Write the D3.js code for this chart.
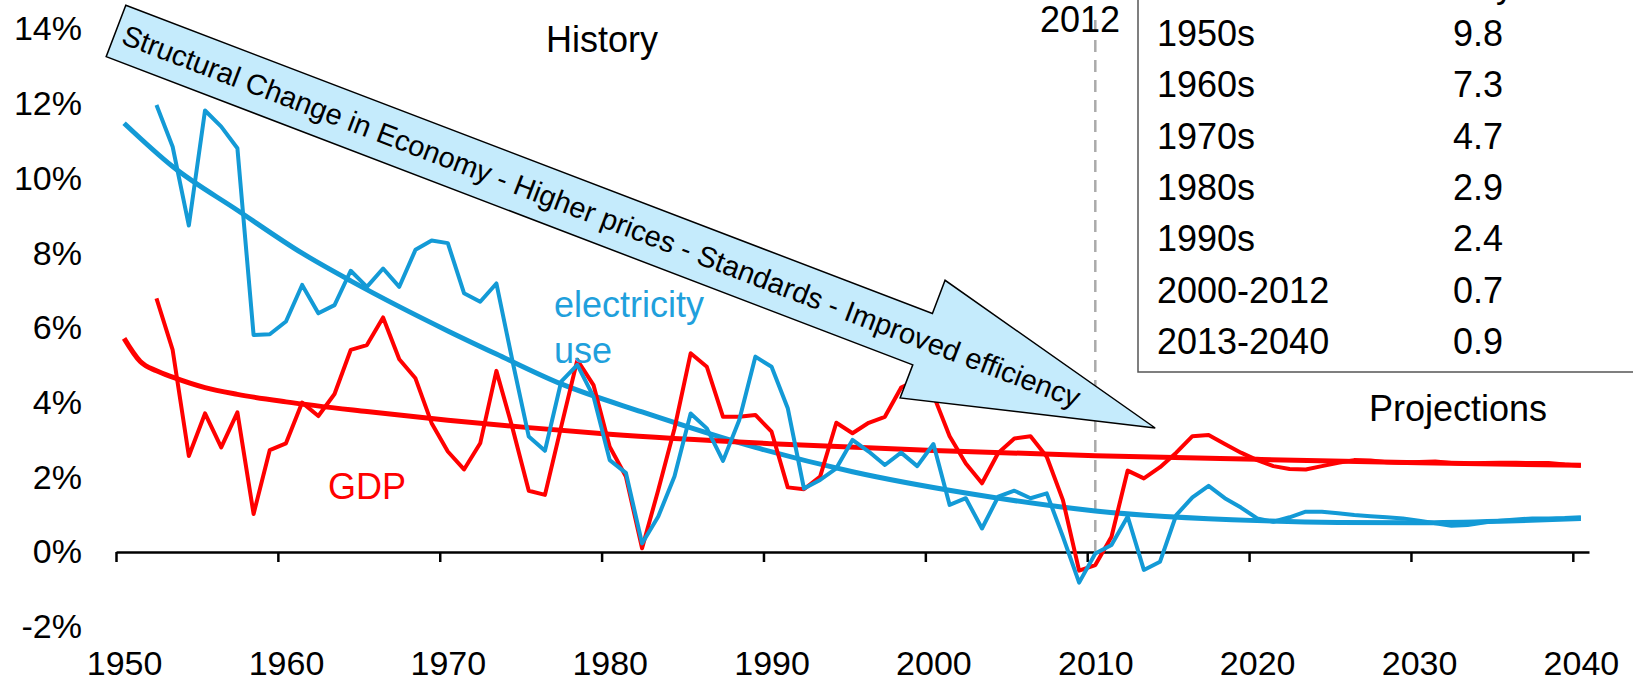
<!DOCTYPE html>
<html>
<head>
<meta charset="utf-8">
<script src="https://cdn.jsdelivr.net/npm/d3@7"></script>
<style>
  body { margin: 0; background: #fff; }
  svg { display: block; font-family: "Liberation Sans", Arial, sans-serif; }
</style>
</head>
<body>
<script>
var width = 1633, height = 688;

// data, growth in % per year
var firstYear = 1952;
var gdp = [6.79, 5.41, 2.57, 3.71, 2.80, 3.74, 1.02, 2.73, 2.91, 4.00,
           3.64, 4.23, 5.41, 5.54, 6.28, 5.16, 4.65, 3.45, 2.69, 2.21,
           2.91, 4.85, 3.31, 1.64, 1.53, 3.35, 5.14, 4.47, 2.82, 2.02,
           0.10, 1.66, 3.30, 5.32, 4.96, 3.62, 3.62, 3.67, 3.22, 1.73,
           1.68, 2.02, 3.46, 3.18, 3.46, 3.62, 4.40, 4.60, 4.20, 3.10,
           2.37, 1.84, 2.65, 3.04, 3.10, 2.55, 1.39, -0.50, -0.35, 0.41,
           2.18, 1.97, 2.27, 2.66, 3.10, 3.13, 2.89, 2.66, 2.46, 2.30,
           2.22, 2.21, 2.30, 2.39, 2.46, 2.45, 2.40, 2.39, 2.41, 2.42,
           2.38, 2.36, 2.38, 2.39, 2.39, 2.38, 2.38, 2.34, 2.31];
var electricity = [11.97, 10.85, 8.74, 11.82, 11.39, 10.81, 5.81, 5.83, 6.17, 7.15,
           6.39, 6.61, 7.53, 7.10, 7.59, 7.10, 8.09, 8.34, 8.27, 6.93,
           6.70, 7.19, 5.10, 3.09, 2.71, 4.56, 5.01, 4.16, 2.46, 2.12,
           0.23, 0.95, 2.02, 3.71, 3.31, 2.44, 3.53, 5.23, 4.96, 3.85,
           1.70, 1.93, 2.24, 3.00, 2.69, 2.33, 2.66, 2.30, 2.89, 1.26,
           1.44, 0.63, 1.48, 1.64, 1.44, 1.57, 0.41, -0.82, -0.04, 0.19,
           0.95, -0.48, -0.26, 0.99, 1.46, 1.77, 1.44, 1.19, 0.90, 0.81,
           0.93, 1.08, 1.08, 1.04, 0.99, 0.96, 0.93, 0.90, 0.84, 0.77,
           0.70, 0.72, 0.79, 0.84, 0.87, 0.90, 0.90, 0.91, 0.93];

// trend lines
var gdpTrendYears = [1950, 1951, 1952, 1953, 1955, 1957, 1960, 1965, 1970, 1975, 1980, 1990, 2000, 2010, 2020, 2030, 2040];
var gdpTrend      = [5.72, 5.10, 4.85, 4.68, 4.40, 4.22, 4.02, 3.76, 3.53, 3.33, 3.15, 2.90, 2.72, 2.58, 2.48, 2.39, 2.32];
var elecTrendYears = [1950, 1953, 1957, 1961, 1964, 1967, 1970, 1973, 1977, 1982, 1989, 1995, 2002, 2010, 2020, 2025, 2030, 2035, 2040];
var elecTrend      = [11.48, 10.32, 9.15, 8.0, 7.26, 6.57, 5.92, 5.30, 4.50, 3.75, 2.80, 2.15, 1.58, 1.10, 0.84, 0.79, 0.78, 0.82, 0.90];

var xTickYears = [1950, 1960, 1970, 1980, 1990, 2000, 2010, 2020, 2030, 2040];
var yTicks = [-2, 0, 2, 4, 6, 8, 10, 12, 14];

var tableRows   = ["1950s", "1960s", "1970s", "1980s", "1990s", "2000-2012", "2013-2040"];
var tableValues = ["9.8", "7.3", "4.7", "2.9", "2.4", "0.7", "0.9"];

var markerYear = 2010, markerLabel = "2012";
var arrowText = "Structural Change in Economy - Higher prices - Standards - Improved efficiency";
var arrowTail = [1949.5, 13.95], arrowTip = [2013.7, 3.32];

var blue = "#139ad6", red = "#ff0000";

// scales: each year is a category, ticks sit on category edges
var x = d3.scaleLinear().domain([1949.5, 2040.5]).range([116, 1589]);
var y = d3.scaleLinear().domain([-2, 14]).range([626.7, 29.1]);

var svg = d3.select("body").append("svg")
    .attr("width", width)
    .attr("height", height);

// x axis
var xAxis = svg.append("g")
    .attr("transform", "translate(0," + y(0) + ")")
    .call(d3.axisBottom(x)
      .tickValues(xTickYears.map(function(d) { return d - 0.5; }))
      .tickSize(10)
      .tickSizeOuter(0)
      .tickFormat(function(d) { return d + 0.5; }));
xAxis.select(".domain").attr("stroke", "#000").attr("stroke-width", 2.5);
xAxis.selectAll(".tick line").attr("stroke", "#000").attr("stroke-width", 2.5);
xAxis.selectAll(".tick text")
    .attr("x", x(1950) - x(1949.5))
    .attr("y", 123)
    .attr("dy", null)
    .attr("font-size", 34)
    .attr("fill", "#000");

// y axis labels only
var yAxis = svg.append("g")
    .attr("transform", "translate(82,0)")
    .call(d3.axisLeft(y)
      .tickValues(yTicks)
      .tickSize(0)
      .tickPadding(0)
      .tickFormat(function(d) { return d + "%"; }));
yAxis.select(".domain").remove();
yAxis.selectAll(".tick text").attr("font-size", 34).attr("fill", "#000");

// marker line
svg.append("line")
    .attr("x1", x(markerYear)).attr("x2", x(markerYear))
    .attr("y1", 20).attr("y2", y(0) + 6)
    .attr("stroke", "#aaa")
    .attr("stroke-width", 2.5)
    .attr("stroke-dasharray", "12,8");
svg.append("text")
    .attr("x", 1120).attr("y", 32)
    .attr("text-anchor", "end")
    .attr("font-size", 36)
    .text(markerLabel);

// lines
var line = d3.line()
    .x(function(d) { return x(d[0]); })
    .y(function(d) { return y(d[1]); });
var smooth = d3.line()
    .curve(d3.curveMonotoneX)
    .x(function(d) { return x(d[0]); })
    .y(function(d) { return y(d[1]); });

function pairs(years, vals) { return vals.map(function(v, i) { return [years[i], v]; }); }
function series(vals) { return vals.map(function(v, i) { return [firstYear + i, v]; }); }

svg.append("path").datum(pairs(elecTrendYears, elecTrend))
    .attr("d", smooth).attr("fill", "none").attr("stroke", blue).attr("stroke-width", 5);
svg.append("path").datum(pairs(gdpTrendYears, gdpTrend))
    .attr("d", smooth).attr("fill", "none").attr("stroke", red).attr("stroke-width", 5);
svg.append("path").datum(series(gdp))
    .attr("d", line).attr("fill", "none").attr("stroke", red).attr("stroke-width", 4)
    .attr("stroke-linejoin", "round");
svg.append("path").datum(series(electricity))
    .attr("d", line).attr("fill", "none").attr("stroke", blue).attr("stroke-width", 4)
    .attr("stroke-linejoin", "round");

// series labels
svg.append("text").attr("x", 367).attr("y", 499)
    .attr("text-anchor", "middle").attr("font-size", 36).attr("fill", red).text("GDP");
var eLab = svg.append("text").attr("x", 554).attr("y", 317)
    .attr("font-size", 36).attr("fill", "#1fa0dc");
eLab.append("tspan").attr("x", 554).text("electricity");
eLab.append("tspan").attr("x", 554).attr("dy", 46).text("use");

svg.append("text").attr("x", 602).attr("y", 52)
    .attr("text-anchor", "middle").attr("font-size", 36).text("History");
svg.append("text").attr("x", 1458).attr("y", 421)
    .attr("text-anchor", "middle").attr("font-size", 36).text("Projections");

// big arrow
var tx = x(arrowTail[0]), ty = y(arrowTail[1]);
var hx = x(arrowTip[0]), hy = y(arrowTip[1]);
var len = Math.hypot(hx - tx, hy - ty);
var ang = Math.atan2(hy - ty, hx - tx) * 180 / Math.PI;
var bw = 27.5, hw = 63, hl = 249;
var arrow = svg.append("g")
    .attr("transform", "translate(" + tx + "," + ty + ") rotate(" + ang + ")");
arrow.append("polygon")
    .attr("points", [[0, -bw], [len - hl, -bw], [len - hl, -hw], [len, 0],
                     [len - hl, hw], [len - hl, bw], [0, bw]].join(" "))
    .attr("fill", "#c5ebfc")
    .attr("stroke", "#000")
    .attr("stroke-width", 1.5);
arrow.append("text")
    .attr("x", 8).attr("y", 10)
    .attr("font-size", 29)
    .text(arrowText);

// table
var table = svg.append("g");
table.append("rect")
    .attr("x", 1138).attr("y", -10)
    .attr("width", 520).attr("height", 382)
    .attr("fill", "none")
    .attr("stroke", "#555")
    .attr("stroke-width", 1.5);
table.append("text")
    .attr("x", 1505).attr("y", -3)
    .attr("text-anchor", "middle")
    .attr("font-size", 36)
    .text("y");
tableRows.forEach(function(r, i) {
  table.append("text").attr("x", 1157).attr("y", 46 + i * 51.3)
      .attr("font-size", 36).text(r);
  table.append("text").attr("x", 1453).attr("y", 46 + i * 51.3)
      .attr("font-size", 36).text(tableValues[i]);
});
</script>
</body>
</html>
